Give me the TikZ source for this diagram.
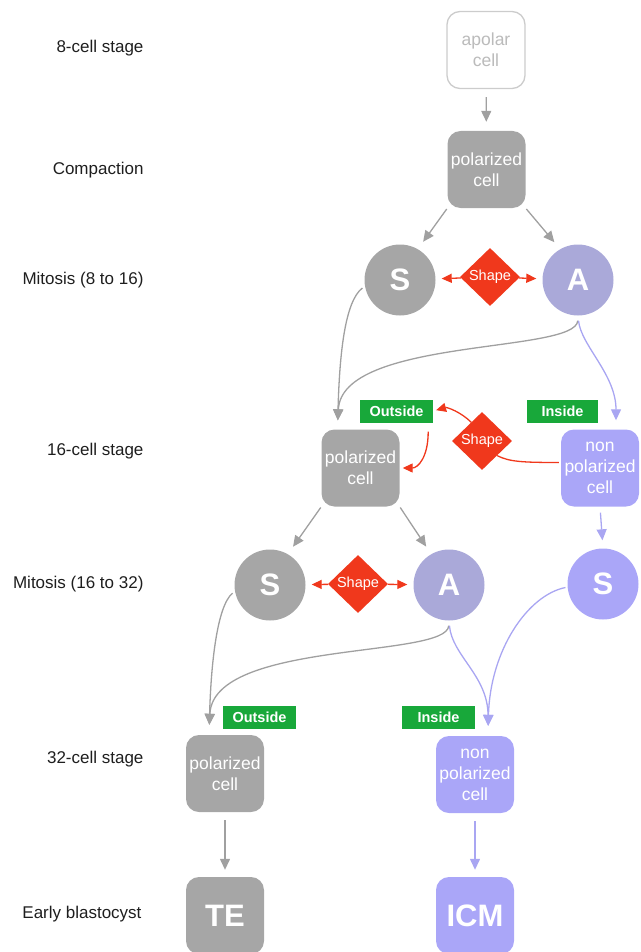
\documentclass[tikz,border=0pt]{standalone}
\usepackage{fontspec}
\setmainfont{Liberation Sans}
\usetikzlibrary{arrows.meta,shapes.geometric}
\definecolor{cgray}{HTML}{A6A6A6}
\definecolor{clav}{HTML}{AAA9D9}
\definecolor{cblue}{HTML}{AAA6F8}
\definecolor{cred}{HTML}{F0381C}
\definecolor{cgreen}{HTML}{18A83A}
\definecolor{cline}{HTML}{A0A0A0}
\definecolor{cbline}{HTML}{A9A6F2}
\definecolor{capolb}{HTML}{CCCCCC}
\definecolor{capolt}{HTML}{BBBBBB}
\definecolor{ctext}{HTML}{1E1E1E}
\begin{document}
\begin{tikzpicture}[x=1pt,y=-1pt,
  cellbox/.style={rectangle, rounded corners=13pt, minimum width=78pt, minimum height=77pt,
    inner sep=0pt, align=center, text=white, font=\fontsize{17.5}{21}\selectfont},
  graycell/.style={cellbox, fill=cgray},
  bluecell/.style={cellbox, fill=cblue},
  apolarcell/.style={cellbox, draw=capolb, line width=1.3pt, fill=white, text=capolt},
  bigcell/.style={cellbox, font=\fontsize{31}{31}\selectfont\bfseries},
  cellcirc/.style={circle, minimum size=71pt, inner sep=0pt, text=white,
    font=\fontsize{31}{31}\selectfont\bfseries},
  shapediam/.style={diamond, fill=cred, minimum width=60pt, minimum height=58pt,
    inner sep=0pt, text=white, font=\fontsize{14.5}{15}\selectfont},
  poslabel/.style={rectangle, fill=cgreen, minimum width=73pt, minimum height=23pt,
    inner sep=0pt, text=white, font=\fontsize{14.5}{15}\selectfont\bfseries},
  stagelabel/.style={anchor=east, text=ctext, font=\fontsize{17}{19}\selectfont},
  garrow/.style={draw=cline, line width=1.3pt, -{Triangle[length=11pt,width=10pt]}},
  barrow/.style={draw=cbline, line width=1.3pt, -{Triangle[length=11pt,width=10pt]}},
  rarrow/.style={draw=cred, line width=1.3pt, -{Triangle[length=10pt,width=9pt]}},
  rline/.style={draw=cred, line width=1.3pt}
]
\useasboundingbox (0,0) rectangle (640,952);

% stage labels
\node[stagelabel] (l1) at (147,48) {8-cell stage};
\node[stagelabel] (l2) at (147,170) {Compaction};
\node[stagelabel] (l3) at (147,280) {Mitosis (8 to 16)};
\node[stagelabel] (l4) at (147,451) {16-cell stage};
\node[stagelabel] (l5) at (147,584) {Mitosis (16 to 32)};
\node[stagelabel] (l6) at (147,759) {32-cell stage};
\node[stagelabel] (l7) at (145,914) {Early blastocyst};

% nodes
\node[apolarcell] (apolar) at (486,50) {apolar\\cell};
\node[graycell] (pol1) at (486.5,169.5) {polarized\\cell};
\node[cellcirc, fill=cgray] (S1) at (400,280) {S};
\node[cellcirc, fill=clav] (A1) at (578,280) {A};
\node[shapediam] (sh1) at (490,277) {Shape};

\node[graycell] (pol2) at (360.5,468) {polarized\\cell};
\node[bluecell] (np1) at (600,468) {non\\polarized\\cell};
\node[poslabel] (out1) at (396.5,411) {Outside};
\node[poslabel, minimum width=71pt] (in1) at (562.5,411) {Inside};
\node[shapediam] (sh2) at (482,441) {Shape};

\node[cellcirc, fill=cgray] (S2) at (270,585) {S};
\node[cellcirc, fill=clav] (A2) at (449,585) {A};
\node[cellcirc, fill=cblue] (S3) at (603,584) {S};
\node[shapediam] (sh3) at (358,584) {Shape};

\node[graycell] (pol3) at (225,773.5) {polarized\\cell};
\node[bluecell] (np3) at (475,774.5) {non\\polarized\\cell};
\node[poslabel] (out2) at (259.5,717) {Outside};
\node[poslabel] (in2) at (438.5,717) {Inside};

\node[bigcell, fill=cgray] (TE) at (225,915.5) {TE};
\node[bigcell, fill=cblue] (ICM) at (475,915.5) {ICM};

% connectors: top
\draw[garrow, shorten <=8pt, shorten >=9pt] (apolar) -- (pol1);
\draw[garrow, shorten <=1pt, shorten >=9pt] (pol1.south west) -- (S1.60);
\draw[garrow, shorten <=1pt, shorten >=9pt] (pol1.south east) -- (A1.120);
\draw[rarrow, shorten >=6pt] (sh1) -- (S1);
\draw[rarrow, shorten >=6pt] (sh1) -- (A1);

% 8 to 16 curves
\draw[garrow, shorten <=3pt, shorten >=9pt] (S1.190) .. controls +(-20,15) and +(2,-75) .. ([xshift=-23pt]pol2.north);
\draw[garrow, shorten <=5pt, shorten >=9pt] (A1.south) .. controls +(-2,38) and +(4,-92) .. ([xshift=-23pt]pol2.north);
\draw[barrow, shorten <=5pt, shorten >=9pt] (A1.south) .. controls +(3,30) and +(0,-55) .. ([xshift=16pt]np1.north);

% shape feedback 16-cell
\draw[rarrow, shorten >=3pt] (sh2.120) .. controls +(-10,-10) and +(14,-4) .. (out1.east);
\draw[rarrow, shorten <=9pt, shorten >=3pt] ([xshift=-5pt]out1.south east) .. controls +(0,35) and +(18,0) .. (pol2.east);
\draw[rline, shorten <=2pt] (np1.172) .. controls +(-40,0) and +(12,6) .. (sh2.south east);

% 16 to 32
\draw[garrow, shorten <=1pt, shorten >=9pt] (pol2.south west) -- (S2.60);
\draw[garrow, shorten <=1pt, shorten >=9pt] (pol2.south east) -- (A2.120);
\draw[barrow, shorten <=6pt, shorten >=8pt] (np1.south) -- (S3.north);
\draw[rarrow, shorten >=6pt] (sh3) -- (S2);
\draw[rarrow, shorten >=6pt] (sh3) -- (A2);

% 32-cell curves
\draw[garrow, shorten <=3pt, shorten >=10pt] (S2.190) .. controls +(-18,15) and +(2,-70) .. ([xshift=-16pt]pol3.north);
\draw[garrow, shorten <=5pt, shorten >=10pt] (A2.south) .. controls +(-2,38) and +(4,-95) .. ([xshift=-16pt]pol3.north);
\draw[barrow, shorten <=5pt, shorten >=10pt] (A2.south) .. controls +(3,35) and +(0,-60) .. ([xshift=13pt]np3.north);
\draw[barrow, shorten <=2pt, shorten >=10pt] (S3.185) .. controls +(-40,8) and +(2,-85) .. ([xshift=13pt]np3.north);

% to blastocyst
\draw[garrow, shorten <=8pt, shorten >=7pt] (pol3) -- (TE);
\draw[barrow, shorten <=8pt, shorten >=7pt] (np3) -- (ICM);
\end{tikzpicture}
\end{document}
